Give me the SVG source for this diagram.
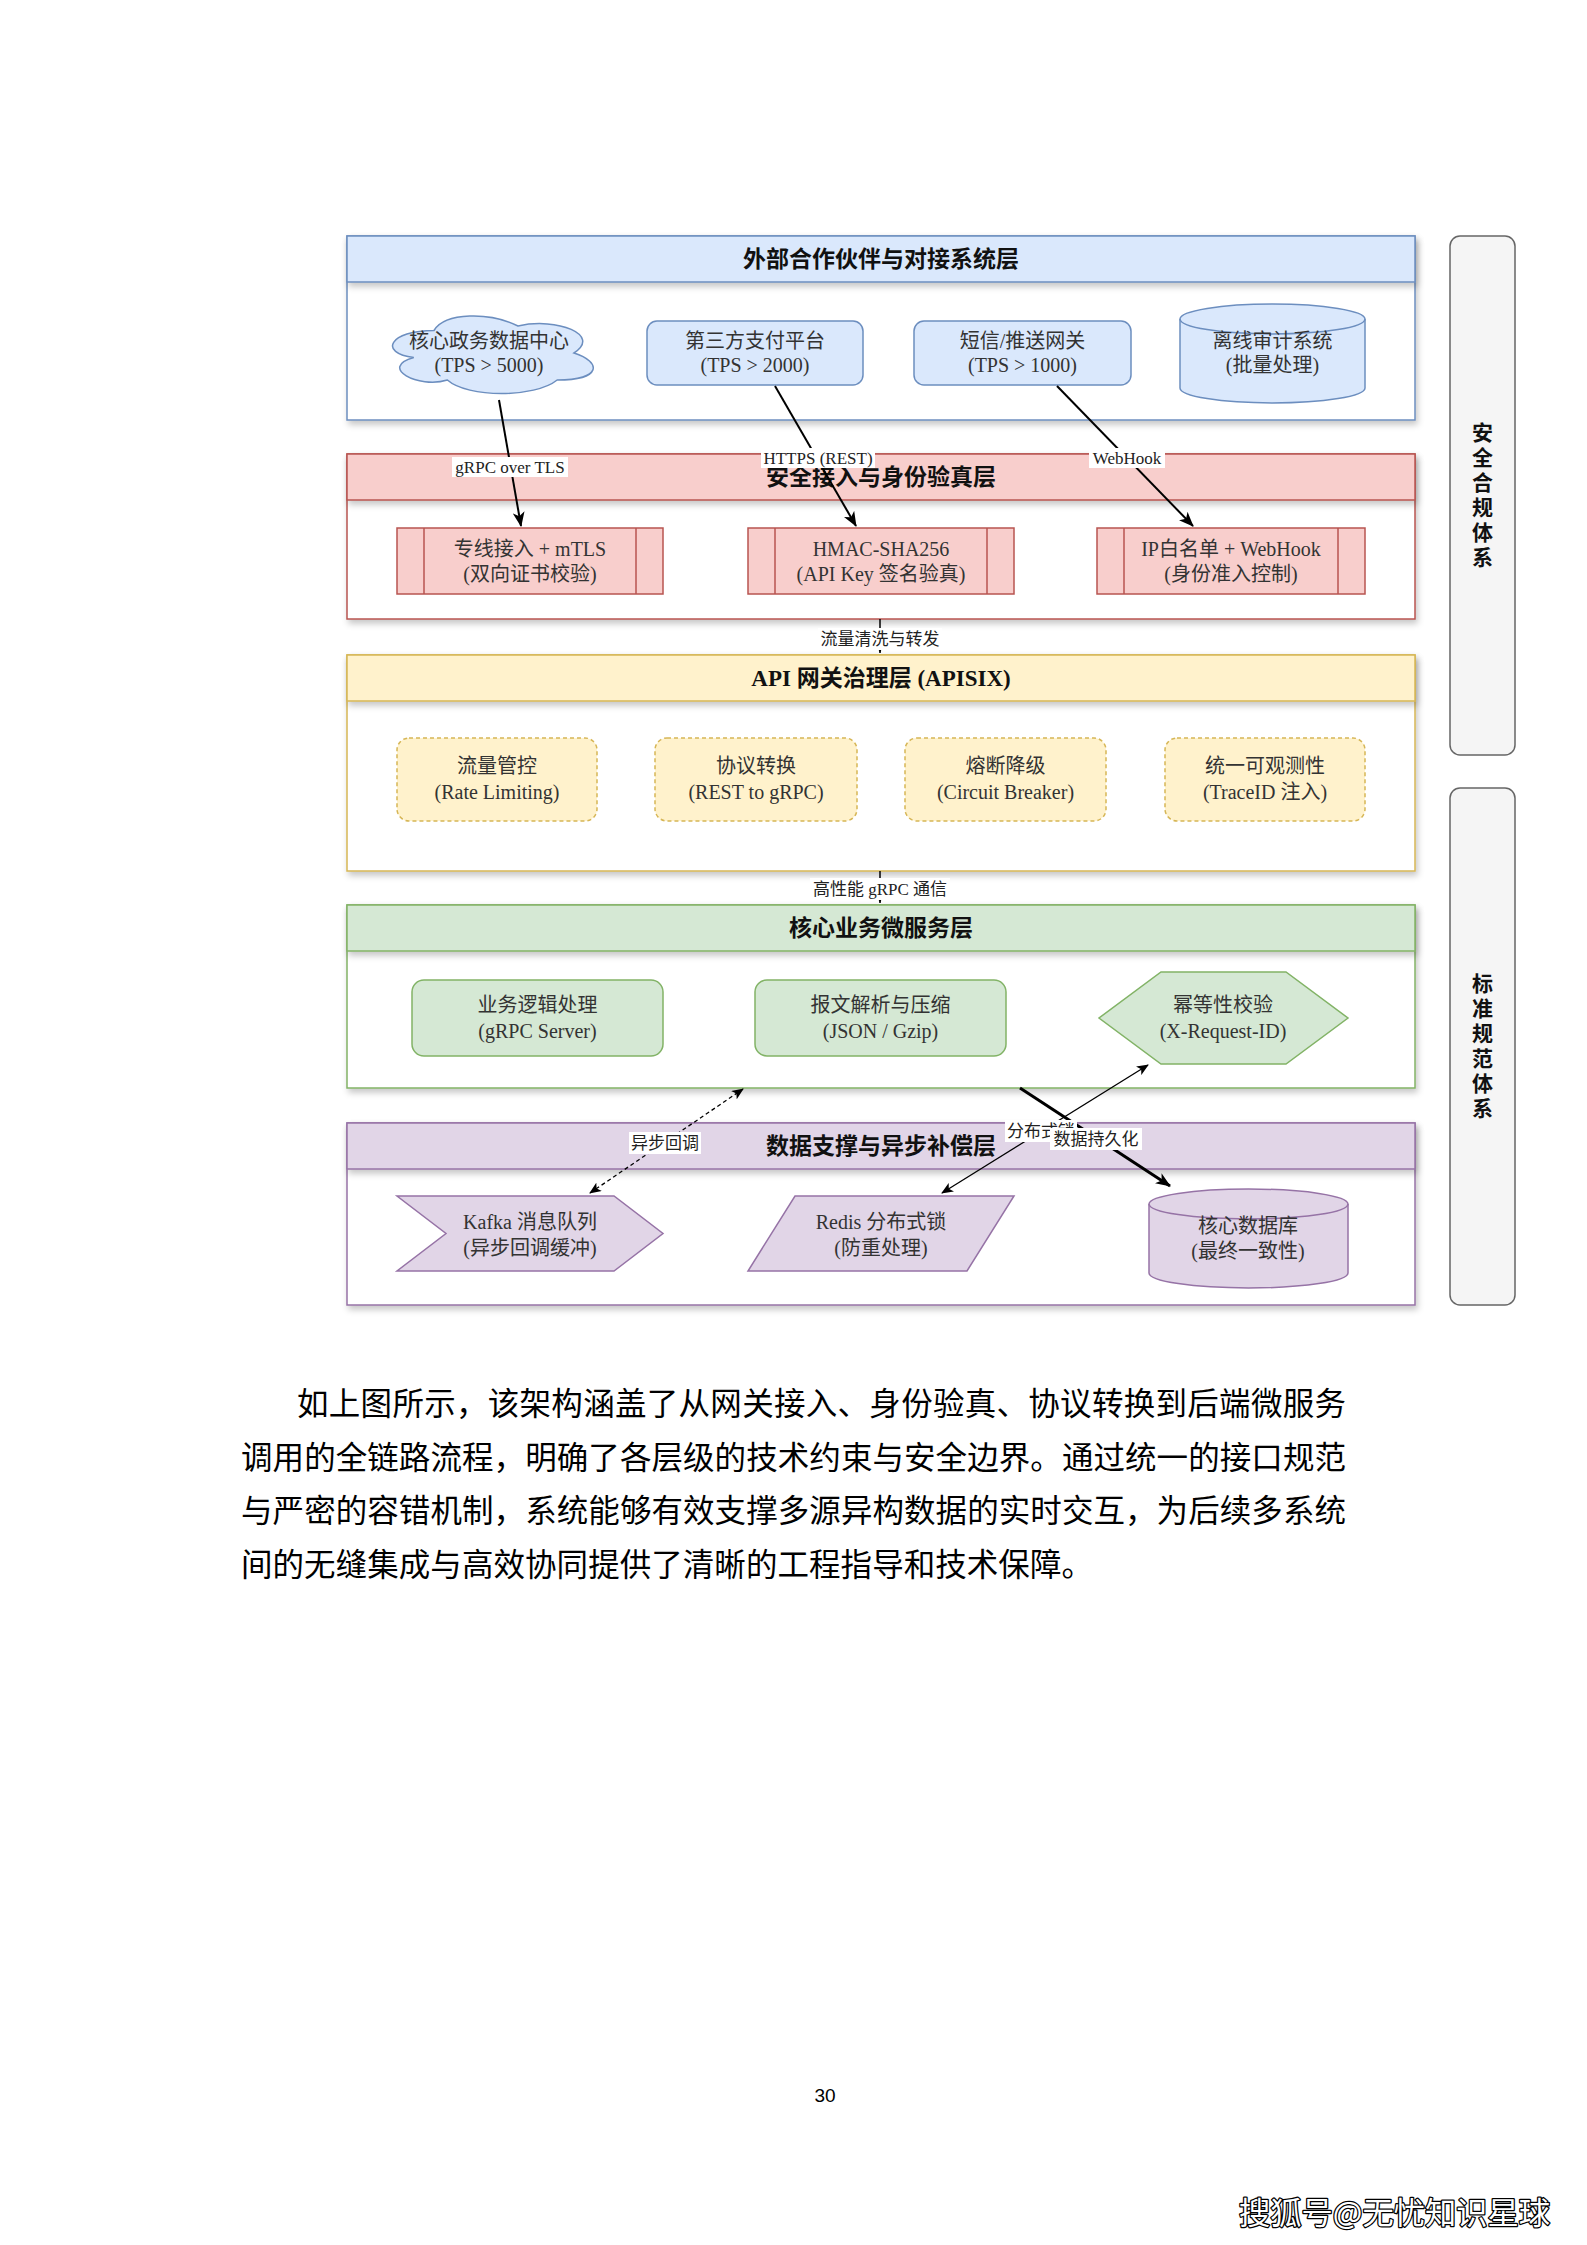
<svg xmlns="http://www.w3.org/2000/svg" width="1587" height="2245" viewBox="0 0 1587 2245">
<style>
.t{font-family:"Liberation Serif","Noto Sans CJK SC",serif;font-size:20px;fill:#333;text-anchor:middle}
.h{font-family:"Liberation Serif","Noto Sans CJK SC",serif;font-size:23px;font-weight:bold;fill:#111;text-anchor:middle}
.lb{font-family:"Liberation Serif","Noto Sans CJK SC",serif;font-size:17px;fill:#222;text-anchor:middle}
.side{font-family:"Noto Sans CJK SC",sans-serif;font-size:21px;font-weight:bold;fill:#111;text-anchor:middle}
.p{font-family:"Noto Sans CJK SC",sans-serif;font-size:31.5px;fill:#000}
.lbg{fill:#fff}
.body{fill:#fff;filter:url(#sh)}
.hd{filter:url(#sh)}
.c{fill:none;stroke:#000}
</style>
<defs>
<filter id="sh" x="-5%" y="-20%" width="110%" height="150%">
<feDropShadow dx="2" dy="4" stdDeviation="3" flood-color="#000" flood-opacity="0.22"/>
</filter>
<marker id="aL" markerUnits="userSpaceOnUse" markerWidth="16" markerHeight="12" refX="14" refY="6" orient="auto-start-reverse">
<path d="M0,0 L15,6 L0,12 L4,6 Z" fill="#000"/>
</marker>
<marker id="aM" markerUnits="userSpaceOnUse" markerWidth="12" markerHeight="10" refX="11" refY="5" orient="auto-start-reverse">
<path d="M0,0 L12,5 L0,10 L3,5 Z" fill="#000"/>
</marker>
<marker id="aS" markerUnits="userSpaceOnUse" markerWidth="8" markerHeight="8" refX="7" refY="4" orient="auto">
<path d="M0,1 L7,4 L0,7 L2,4 Z" fill="#000"/>
</marker>
</defs>
<rect width="1587" height="2245" fill="#fff"/>

<!-- Layers -->
<g id="layer-external">
<rect class="body" x="347" y="236" width="1068" height="184" stroke="#6c8ebf" stroke-width="1.5"/>
<rect class="hd" x="347" y="236" width="1068" height="46" fill="#dae8fc" stroke="#6c8ebf" stroke-width="1.5"/>
<text class="h" x="881" y="267">外部合作伙伴与对接系统层</text>
</g>
<g id="layer-security">
<rect class="body" x="347" y="454" width="1068" height="165" stroke="#b85450" stroke-width="1.5"/>
<rect class="hd" x="347" y="454" width="1068" height="46" fill="#f8cecc" stroke="#b85450" stroke-width="1.5"/>
<text class="h" x="881" y="485">安全接入与身份验真层</text>
</g>
<g id="layer-gateway">
<rect class="body" x="347" y="655" width="1068" height="216" stroke="#d6b656" stroke-width="1.5"/>
<rect class="hd" x="347" y="655" width="1068" height="46" fill="#fff2cc" stroke="#d6b656" stroke-width="1.5"/>
<text class="h" x="881" y="686">API 网关治理层 (APISIX)</text>
</g>
<g id="layer-core">
<rect class="body" x="347" y="905" width="1068" height="183" stroke="#82b366" stroke-width="1.5"/>
<rect class="hd" x="347" y="905" width="1068" height="46" fill="#d5e8d4" stroke="#82b366" stroke-width="1.5"/>
<text class="h" x="881" y="936">核心业务微服务层</text>
</g>
<g id="layer-data">
<rect class="body" x="347" y="1123" width="1068" height="182" stroke="#9673a6" stroke-width="1.5"/>
<rect class="hd" x="347" y="1123" width="1068" height="46" fill="#e1d5e7" stroke="#9673a6" stroke-width="1.5"/>
<text class="h" x="881" y="1154">数据支撑与异步补偿层</text>
</g>

<!-- Side panels -->
<g id="panel-security">
<rect x="1450" y="236" width="65" height="519" rx="10" fill="#f5f5f5" stroke="#666" stroke-width="1.5"/>
<text class="side" x="1482.5" y="497" writing-mode="vertical-rl" letter-spacing="4">安全合规体系</text>
</g>
<g id="panel-standard">
<rect x="1450" y="788" width="65" height="517" rx="10" fill="#f5f5f5" stroke="#666" stroke-width="1.5"/>
<text class="side" x="1482.5" y="1048" writing-mode="vertical-rl" letter-spacing="4">标准规范体系</text>
</g>

<!-- Layer 1 nodes -->
<g id="n-gov">
<path d="M434,330.5 C389.2,330.5 378,353 413.8,357.5 C378,367.4 418.3,389 447.4,380 C467.6,398 534.8,398 557.2,380 C602,380 602,362 574,353 C602,335 557.2,317 518,326 C490,312 445.2,312 434,330.5 Z" fill="#dae8fc" stroke="#6c8ebf" stroke-width="1.5"/>
<text class="t" x="489" y="348">核心政务数据中心</text>
<text class="t" x="489" y="372">(TPS &gt; 5000)</text>
</g>
<g id="n-pay">
<rect x="647" y="321" width="216" height="64" rx="10" fill="#dae8fc" stroke="#6c8ebf" stroke-width="1.5"/>
<text class="t" x="755" y="348">第三方支付平台</text>
<text class="t" x="755" y="372">(TPS &gt; 2000)</text>
</g>
<g id="n-sms">
<rect x="914" y="321" width="217" height="64" rx="10" fill="#dae8fc" stroke="#6c8ebf" stroke-width="1.5"/>
<text class="t" x="1022.5" y="348">短信/推送网关</text>
<text class="t" x="1022.5" y="372">(TPS &gt; 1000)</text>
</g>
<g id="n-audit">
<path d="M1180,319 A92.5,15 0 0 1 1365,319 L1365,388 A92.5,15 0 0 1 1180,388 Z" fill="#dae8fc" stroke="#6c8ebf" stroke-width="1.5"/>
<path d="M1180,319 A92.5,15 0 0 0 1365,319" fill="none" stroke="#6c8ebf" stroke-width="1.5"/>
<text class="t" x="1272.5" y="348">离线审计系统</text>
<text class="t" x="1272.5" y="372">(批量处理)</text>
</g>

<!-- Layer 2 nodes -->
<g id="n-mtls">
<rect x="397" y="528" width="266" height="66" fill="#f8cecc" stroke="#b85450" stroke-width="1.5"/>
<path d="M424,528 V594 M636,528 V594" stroke="#b85450" stroke-width="1.5"/>
<text class="t" x="530" y="556">专线接入 + mTLS</text>
<text class="t" x="530" y="581">(双向证书校验)</text>
</g>
<g id="n-hmac">
<rect x="748" y="528" width="266" height="66" fill="#f8cecc" stroke="#b85450" stroke-width="1.5"/>
<path d="M775,528 V594 M987,528 V594" stroke="#b85450" stroke-width="1.5"/>
<text class="t" x="881" y="556">HMAC-SHA256</text>
<text class="t" x="881" y="581">(API Key 签名验真)</text>
</g>
<g id="n-ip">
<rect x="1097" y="528" width="268" height="66" fill="#f8cecc" stroke="#b85450" stroke-width="1.5"/>
<path d="M1124,528 V594 M1338,528 V594" stroke="#b85450" stroke-width="1.5"/>
<text class="t" x="1231" y="556">IP白名单 + WebHook</text>
<text class="t" x="1231" y="581">(身份准入控制)</text>
</g>

<!-- Layer 3 nodes -->
<g id="n-rate">
<rect x="397" y="738" width="200" height="83" rx="12" fill="#fff2cc" stroke="#d6b656" stroke-width="1.5" stroke-dasharray="4 3"/>
<text class="t" x="497" y="773">流量管控</text>
<text class="t" x="497" y="799">(Rate Limiting)</text>
</g>
<g id="n-proto">
<rect x="655" y="738" width="202" height="83" rx="12" fill="#fff2cc" stroke="#d6b656" stroke-width="1.5" stroke-dasharray="4 3"/>
<text class="t" x="756" y="773">协议转换</text>
<text class="t" x="756" y="799">(REST to gRPC)</text>
</g>
<g id="n-breaker">
<rect x="905" y="738" width="201" height="83" rx="12" fill="#fff2cc" stroke="#d6b656" stroke-width="1.5" stroke-dasharray="4 3"/>
<text class="t" x="1005.5" y="773">熔断降级</text>
<text class="t" x="1005.5" y="799">(Circuit Breaker)</text>
</g>
<g id="n-observe">
<rect x="1165" y="738" width="200" height="83" rx="12" fill="#fff2cc" stroke="#d6b656" stroke-width="1.5" stroke-dasharray="4 3"/>
<text class="t" x="1265" y="773">统一可观测性</text>
<text class="t" x="1265" y="799">(TraceID 注入)</text>
</g>

<!-- Layer 4 nodes -->
<g id="n-biz">
<rect x="412" y="980" width="251" height="76" rx="12" fill="#d5e8d4" stroke="#82b366" stroke-width="1.5"/>
<text class="t" x="537.5" y="1012">业务逻辑处理</text>
<text class="t" x="537.5" y="1038">(gRPC Server)</text>
</g>
<g id="n-parse">
<rect x="755" y="980" width="251" height="76" rx="12" fill="#d5e8d4" stroke="#82b366" stroke-width="1.5"/>
<text class="t" x="880.5" y="1012">报文解析与压缩</text>
<text class="t" x="880.5" y="1038">(JSON / Gzip)</text>
</g>
<g id="n-idem">
<polygon points="1161,972 1286,972 1348,1018 1286,1064 1161,1064 1099,1018" fill="#d5e8d4" stroke="#82b366" stroke-width="1.5"/>
<text class="t" x="1223" y="1012">幂等性校验</text>
<text class="t" x="1223" y="1038">(X-Request-ID)</text>
</g>

<!-- Layer 5 nodes -->
<g id="n-kafka">
<polygon points="397,1196 614,1196 663,1233.5 614,1271 397,1271 446,1233.5" fill="#e1d5e7" stroke="#9673a6" stroke-width="1.5"/>
<text class="t" x="530" y="1229">Kafka 消息队列</text>
<text class="t" x="530" y="1255">(异步回调缓冲)</text>
</g>
<g id="n-redis">
<polygon points="795,1196 1014,1196 967,1271 748,1271" fill="#e1d5e7" stroke="#9673a6" stroke-width="1.5"/>
<text class="t" x="881" y="1229">Redis 分布式锁</text>
<text class="t" x="881" y="1255">(防重处理)</text>
</g>
<g id="n-db">
<path d="M1149,1204 A99.5,15 0 0 1 1348,1204 L1348,1273 A99.5,15 0 0 1 1149,1273 Z" fill="#e1d5e7" stroke="#9673a6" stroke-width="1.5"/>
<path d="M1149,1204 A99.5,15 0 0 0 1348,1204" fill="none" stroke="#9673a6" stroke-width="1.5"/>
<text class="t" x="1248" y="1233">核心数据库</text>
<text class="t" x="1248" y="1258">(最终一致性)</text>
</g>

<!-- Connectors -->
<g id="connectors">
<path class="c" d="M499,400 L521,526" stroke-width="2" marker-end="url(#aL)"/>
<path class="c" d="M775,386 L856,526" stroke-width="2" marker-end="url(#aL)"/>
<path class="c" d="M1057,386 L1193,526" stroke-width="2" marker-end="url(#aL)"/>
<path class="c" d="M880,619 L880,653" stroke-width="1.5" marker-end="url(#aS)"/>
<path class="c" d="M880,871 L880,903" stroke-width="1.5" marker-end="url(#aS)"/>
<path class="c" d="M590,1193 L743,1089" stroke-width="1.3" stroke-dasharray="4 3" marker-start="url(#aM)" marker-end="url(#aM)"/>
<path class="c" d="M942,1193 L1148,1065" stroke-width="1.3" marker-start="url(#aM)" marker-end="url(#aM)"/>
<path class="c" d="M1020,1088 L1170,1186" stroke-width="3" marker-end="url(#aL)"/>

<rect class="lbg" x="452" y="457" width="116" height="20"/>
<text class="lb" x="510" y="473">gRPC over TLS</text>
<rect class="lbg" x="761" y="448" width="114" height="20"/>
<text class="lb" x="818" y="464">HTTPS (REST)</text>
<rect class="lbg" x="1089" y="448" width="76" height="20"/>
<text class="lb" x="1127" y="464">WebHook</text>
<rect class="lbg" x="818" y="628" width="124" height="22"/>
<text class="lb" x="880" y="645">流量清洗与转发</text>
<rect class="lbg" x="810" y="878" width="140" height="22"/>
<text class="lb" x="880" y="895">高性能 gRPC 通信</text>
<rect class="lbg" x="629" y="1132" width="72" height="22"/>
<text class="lb" x="665" y="1149">异步回调</text>
<rect class="lbg" x="1005" y="1120" width="72" height="22"/>
<text class="lb" x="1041" y="1137">分布式锁</text>
<rect class="lbg" x="1050" y="1128" width="92" height="22"/>
<text class="lb" x="1096" y="1145">数据持久化</text>
</g>

<!-- Paragraph -->
<g id="paragraph">
<text class="p" x="297" y="1415" textLength="1049" lengthAdjust="spacing">如上图所示，该架构涵盖了从网关接入、身份验真、协议转换到后端微服务</text>
<text class="p" x="241" y="1469" textLength="1105" lengthAdjust="spacing">调用的全链路流程，明确了各层级的技术约束与安全边界。通过统一的接口规范</text>
<text class="p" x="241" y="1522" textLength="1105" lengthAdjust="spacing">与严密的容错机制，系统能够有效支撑多源异构数据的实时交互，为后续多系统</text>
<text class="p" x="241" y="1576" textLength="852" lengthAdjust="spacing">间的无缝集成与高效协同提供了清晰的工程指导和技术保障。</text>
</g>

<text x="825" y="2102" font-family="Liberation Sans, sans-serif" font-size="19" text-anchor="middle" fill="#000">30</text>
<text x="1239" y="2224" font-family="Noto Sans CJK SC, sans-serif" font-size="31" textLength="311" lengthAdjust="spacingAndGlyphs" fill="#fff" stroke="#000" stroke-width="2.5" paint-order="stroke" stroke-linejoin="round">搜狐号@无忧知识星球</text>
</svg>
